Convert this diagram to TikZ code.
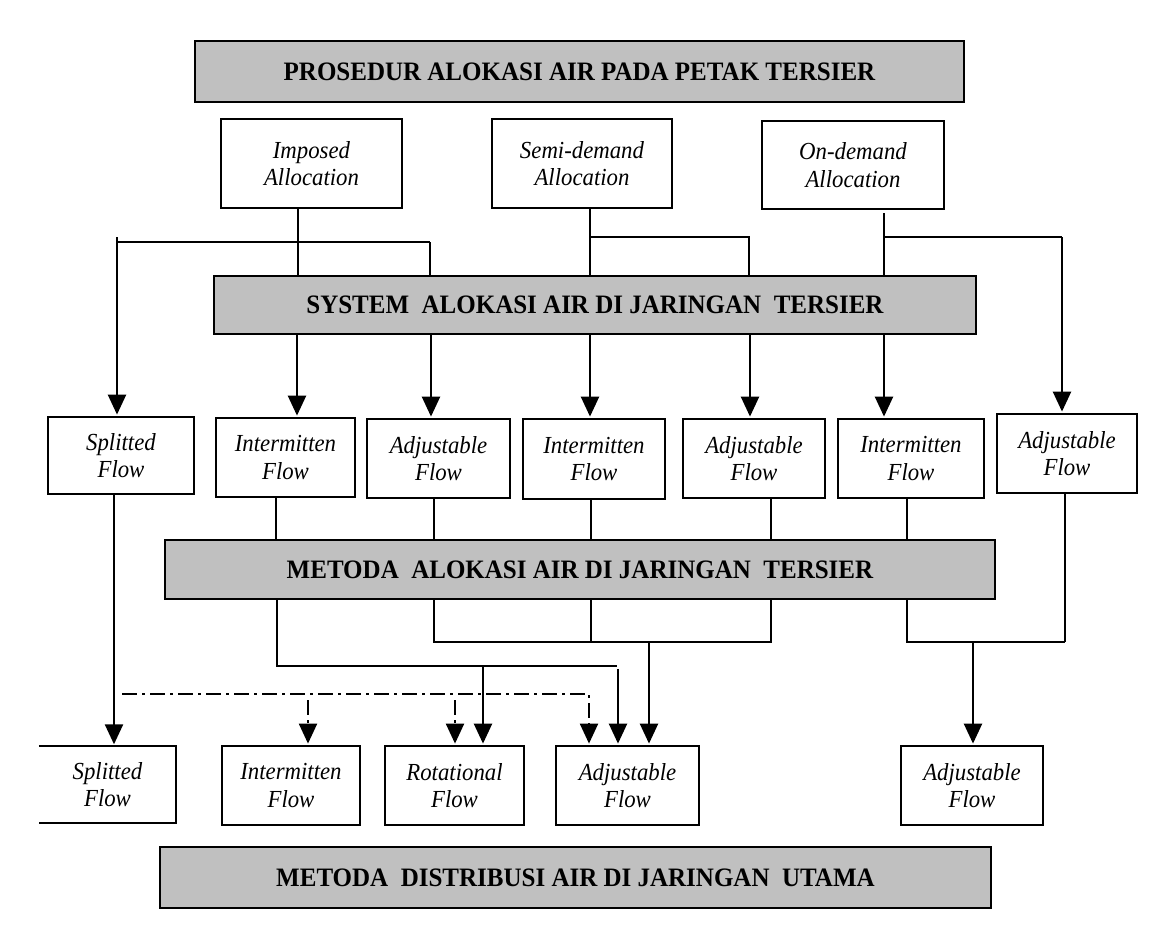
\documentclass[tikz,border=0pt]{standalone}
\usepackage{fontspec}
\setmainfont{Liberation Serif}
\newfontfamily\labfont[FakeStretch=0.93]{Liberation Serif}
\newfontfamily\ttlfont[FakeStretch=0.94]{Liberation Serif}
\usetikzlibrary{arrows.meta}
\definecolor{titlegray}{HTML}{C0C0C0}
\begin{document}
\begin{tikzpicture}[x=1pt,y=-1pt,
  box/.style={draw, line width=1.8pt, fill=white, inner sep=0pt, align=center,
    font=\labfont\fontsize{24.5}{27.5}\selectfont\itshape},
  nobox/.style={inner sep=0pt, align=center, font=\labfont\fontsize{24.5}{27.5}\selectfont\itshape},
  titlebox/.style={draw, line width=1.8pt, fill=titlegray, inner sep=0pt, align=center,
    font=\ttlfont\fontsize{26.6}{30}\selectfont\bfseries},
  arr/.style={line width=2.4pt, -{Triangle[length=20pt,width=18pt]}, shorten >=1.5pt},
  ln/.style={line width=1.8pt},
  thinln/.style={line width=1.2pt},
  dd/.style={line width=2.2pt, dash pattern=on 15pt off 5pt on 3pt off 5pt},
  dda/.style={dd, -{Triangle[length=20pt,width=18pt]}, shorten >=1.5pt},
]
\useasboundingbox (0,0) rectangle (1163,932);

% ---- titles
\node[titlebox, minimum width=769pt, minimum height=61pt] (proc) at (579.5,71.5)
  {PROSEDUR ALOKASI AIR PADA PETAK TERSIER};
\node[titlebox, minimum width=762pt, minimum height=58pt] (sys) at (595,305)
  {SYSTEM\ \ ALOKASI AIR DI JARINGAN\ \ TERSIER};
\node[titlebox, minimum width=830pt, minimum height=59pt] (meta) at (580,569.5)
  {METODA\ \ ALOKASI AIR DI JARINGAN\ \ TERSIER};
\node[titlebox, minimum width=831pt, minimum height=61pt] (dist) at (575.5,877.5)
  {METODA\ \ DISTRIBUSI AIR DI JARINGAN\ \ UTAMA};

% ---- allocation boxes
\node[box, minimum width=181pt, minimum height=89pt] (imp) at (311.5,163.5) {Imposed\\Allocation};
\node[box, minimum width=180pt, minimum height=89pt] (semi) at (582,163.5) {Semi-demand\\Allocation};
\node[box, minimum width=182pt, minimum height=88pt] (ond) at (853,165) {On-demand\\Allocation};

% ---- row 3 boxes
\node[box, minimum width=146pt, minimum height=77pt] (sf1) at (121,455.5) {Splitted\\Flow};
\node[box, minimum width=139pt, minimum height=79pt] (if1) at (285.5,457.5) {Intermitten\\Flow};
\node[box, minimum width=143pt, minimum height=79pt] (af1) at (438.5,458.5) {Adjustable\\Flow};
\node[box, minimum width=142pt, minimum height=80pt] (if2) at (594,459) {Intermitten\\Flow};
\node[box, minimum width=142pt, minimum height=79pt] (af2) at (754,458.5) {Adjustable\\Flow};
\node[box, minimum width=146pt, minimum height=79pt] (if3) at (911,458.5) {Intermitten\\Flow};
\node[box, minimum width=140pt, minimum height=79pt] (af3) at (1067,453.5) {Adjustable\\Flow};

% ---- bottom row boxes
\node[nobox, minimum width=137pt, minimum height=77pt] (sf2) at (107.5,784.5) {Splitted\\Flow};
\draw[line width=1.8pt] (sf2.north west) -- (sf2.north east) -- (sf2.south east) -- (sf2.south west);
\node[box, minimum width=138pt, minimum height=79pt] (if4) at (291,785.5) {Intermitten\\Flow};
\node[box, minimum width=139pt, minimum height=79pt] (rf) at (454.5,785.5) {Rotational\\Flow};
\node[box, minimum width=143pt, minimum height=79pt] (af4) at (627.5,785.5) {Adjustable\\Flow};
\node[box, minimum width=142pt, minimum height=79pt] (af5) at (972,785.5) {Adjustable\\Flow};

% ---- column coordinates
\foreach \x in {114,117,276,277,297,298,308,430,431,434,455,483,589,590,591,618,649,749,750,771,884,907,973,1062,1063,1065}
  \coordinate (c\x) at (\x,0);

% junction points
\coordinate (jimpL) at (117,242);
\coordinate (jimpLt) at (117,237);
\coordinate (jimpR) at (430,242);
\coordinate (jsemiL) at (590,237);
\coordinate (jsemiR) at (749,237);
\coordinate (jondT) at (884,213);
\coordinate (jondL) at (884,237);
\coordinate (jondR) at (1062,237);

\coordinate (kA) at (277,666);
\coordinate (kAR) at (617,666);
\coordinate (kA1) at (483,666);
\coordinate (kA2) at (618,669);
\coordinate (kB) at (434,642);
\coordinate (kBm) at (591,642);
\coordinate (kBR) at (771,642);
\coordinate (kB1) at (649,642);
\coordinate (kC) at (907,642);
\coordinate (kCR) at (1065,642);
\coordinate (kC1) at (973,642);

\coordinate (dL) at (122,694);
\coordinate (dR) at (589,694);
\coordinate (d1) at (308,700);
\coordinate (d2) at (455,700);

% ---- allocation -> system
\draw[ln] (imp.south -| c298) -- (sys.north -| c298);
\draw[ln] (jimpL) -- (jimpR);
\draw[ln] (jimpR) -- (sys.north -| c430);
\draw[arr] (jimpLt) -- (sf1.north -| c117);

\draw[ln] (semi.south -| c590) -- (sys.north -| c590);
\draw[ln] (jsemiL) -- (jsemiR) -- (sys.north -| c749);

\draw[ln] (jondT) -- (sys.north -| c884);
\draw[ln] (jondL) -- (jondR);
\draw[arr] (jondR) -- (af3.north -| c1062);

% ---- system -> row 3
\draw[arr] (sys.south -| c297) -- (if1.north -| c297);
\draw[arr] (sys.south -| c431) -- (af1.north -| c431);
\draw[arr] (sys.south -| c590) -- (if2.north -| c590);
\draw[arr] (sys.south -| c750) -- (af2.north -| c750);
\draw[arr] (sys.south -| c884) -- (if3.north -| c884);

% ---- row 3 -> metoda alokasi
\draw[thinln] (if1.south -| c276) -- (meta.north -| c276);
\draw[thinln] (af1.south -| c434) -- (meta.north -| c434);
\draw[thinln] (if2.south -| c591) -- (meta.north -| c591);
\draw[thinln] (af2.south -| c771) -- (meta.north -| c771);
\draw[thinln] (if3.south -| c907) -- (meta.north -| c907);
\draw[ln] (af3.south -| c1065) -- (kCR);

% ---- metoda alokasi -> bottom row
\draw[ln] (meta.south -| c277) -- (kA) -- (kAR);
\draw[arr] (kA1) -- (rf.north -| c483);
\draw[arr] (kA2) -- (af4.north -| c618);

\draw[ln] (meta.south -| c434) -- (kB) -- (kBR) -- (meta.south -| c771);
\draw[ln] (meta.south -| c591) -- (kBm);
\draw[arr] (kB1) -- (af4.north -| c649);

\draw[ln] (meta.south -| c907) -- (kC) -- (kCR);
\draw[arr] (kC1) -- (af5.north -| c973);

\draw[arr] (sf1.south -| c114) -- (sf2.north -| c114);

% ---- dash-dot
\draw[dda] (dL) -- (dR) -- (af4.north -| c589);
\draw[dda] (d1) -- (if4.north -| c308);
\draw[dda] (d2) -- (rf.north -| c455);

\end{tikzpicture}
\end{document}
